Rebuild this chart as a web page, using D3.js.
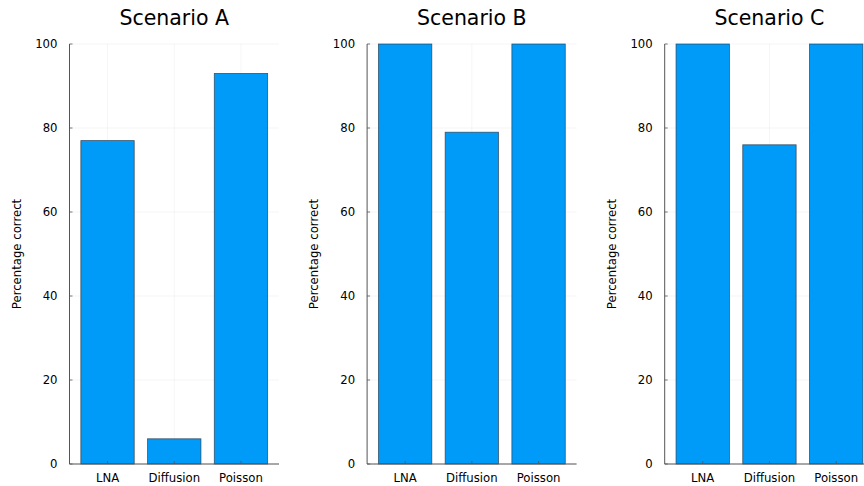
<!DOCTYPE html>
<html><head><meta charset="utf-8">
<script src="https://cdn.jsdelivr.net/npm/d3@7"></script>
<style>body{margin:0;background:#fff}svg{display:block}text{font-family:"DejaVu Sans",sans-serif}</style>
</head><body><svg id="c" width="864" height="486"></svg>
<script>
const categories = ["LNA", "Diffusion", "Poisson"];
const titles = ["Scenario A", "Scenario B", "Scenario C"];
const valuesA = [77, 6, 93];
const valuesB = [100, 79, 100];
const valuesC = [100, 76, 100];
const yTicks = [0, 20, 40, 60, 80, 100];
const yLabel = "Percentage correct";
const panels = [valuesA, valuesB, valuesC];

const svg = d3.select("#c");
const plotTop = 44, plotBottom = 464, plotW = 209.5, step = 297.6, firstLeft = 69.5;
const y = d3.scaleLinear().domain([0, 100]).range([plotBottom, plotTop]);

panels.forEach((vals, i) => {
  const left = firstLeft + i * step;
  const x = d3.scaleLinear().domain([-0.07, 3.07]).range([left, left + plotW]);
  const g = svg.append("g");
  // grid
  g.selectAll(".gy").data(yTicks).enter().append("line")
    .attr("x1", left).attr("x2", left + plotW)
    .attr("y1", d => y(d)).attr("y2", d => y(d))
    .attr("stroke", "#000").attr("stroke-opacity", 0.07).attr("stroke-width", 0.6);
  g.selectAll(".gx").data(categories).enter().append("line")
    .attr("x1", (d, j) => x(j + 0.5)).attr("x2", (d, j) => x(j + 0.5))
    .attr("y1", plotTop).attr("y2", plotBottom)
    .attr("stroke", "#000").attr("stroke-opacity", 0.07).attr("stroke-width", 0.6);
  // bars
  g.selectAll(".bar").data(vals).enter().append("rect")
    .attr("x", (d, j) => x(j + 0.1)).attr("width", (d, j) => x(j + 0.9) - x(j + 0.1))
    .attr("y", d => y(d)).attr("height", d => y(0) - y(d))
    .attr("fill", "#009af9").attr("stroke", "#2b3a48").attr("stroke-opacity", 0.8).attr("stroke-width", 0.8);
  // axes
  g.append("line").attr("x1", left).attr("x2", left).attr("y1", plotTop).attr("y2", plotBottom)
    .attr("stroke", "#555").attr("stroke-width", 1);
  g.append("line").attr("x1", left).attr("x2", left + plotW).attr("y1", plotBottom).attr("y2", plotBottom)
    .attr("stroke", "#555").attr("stroke-width", 1);
  // y ticks
  g.selectAll(".yt").data(yTicks).enter().append("line")
    .attr("x1", left).attr("x2", left + 3).attr("y1", d => y(d)).attr("y2", d => y(d))
    .attr("stroke", "#555").attr("stroke-width", 0.8);
  g.selectAll(".yl").data(yTicks).enter().append("text")
    .attr("x", left - 12).attr("y", d => y(d)).attr("dy", "0.35em")
    .attr("text-anchor", "end").attr("font-size", 11.7).attr("fill", "#000").text(d => d);
  // x ticks
  g.selectAll(".xt").data(categories).enter().append("line")
    .attr("x1", (d, j) => x(j + 0.5)).attr("x2", (d, j) => x(j + 0.5))
    .attr("y1", plotBottom).attr("y2", plotBottom - 3)
    .attr("stroke", "#555").attr("stroke-width", 0.8);
  g.selectAll(".xl").data(categories).enter().append("text")
    .attr("x", (d, j) => x(j + 0.5)).attr("y", plotBottom + 14).attr("dy", "0.35em")
    .attr("text-anchor", "middle").attr("font-size", 11.7).attr("fill", "#000").text(d => d);
  // title
  g.append("text").attr("x", left + plotW / 2).attr("y", 18).attr("dy", "0.35em")
    .attr("text-anchor", "middle").attr("font-size", 20.5).attr("fill", "#000").text(titles[i]);
  // y label
  g.append("text").attr("transform", `translate(${left - 53},${(plotTop + plotBottom) / 2}) rotate(-90)`)
    .attr("dy", "0.35em").attr("text-anchor", "middle").attr("font-size", 11.7).attr("fill", "#000").text(yLabel);
});
</script></body></html>
